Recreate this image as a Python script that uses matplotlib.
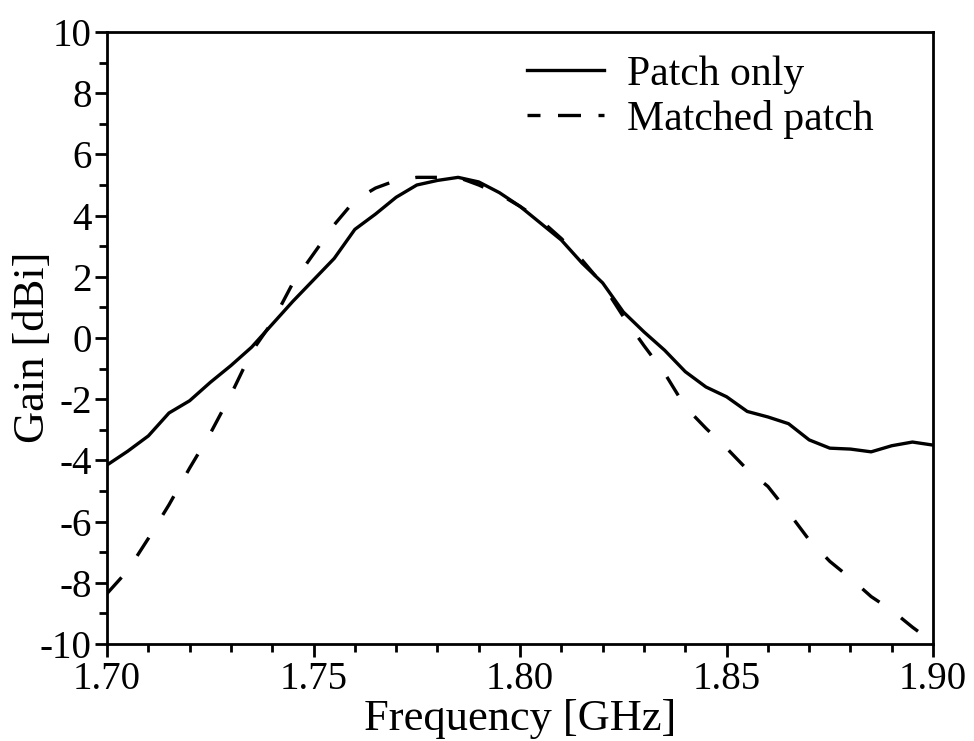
import numpy as np
import matplotlib
matplotlib.use("Agg")
import matplotlib.pyplot as plt
from matplotlib.lines import Line2D
from matplotlib.ticker import MultipleLocator, FuncFormatter

freq = [1.700, 1.705, 1.710, 1.715, 1.720, 1.725, 1.730, 1.735, 1.740, 1.745,
        1.750, 1.755, 1.760, 1.765, 1.770, 1.775, 1.780, 1.785, 1.790, 1.795,
        1.800, 1.805, 1.810, 1.815, 1.820, 1.825, 1.830, 1.835, 1.840, 1.845,
        1.850, 1.855, 1.860, 1.865, 1.870, 1.875, 1.880, 1.885, 1.890, 1.895,
        1.900]

patch_only = [-4.15, -3.70, -3.20, -2.45, -2.05, -1.45, -0.90, -0.30, 0.45, 1.20,
              1.90, 2.60, 3.55, 4.05, 4.60, 5.00, 5.15, 5.25, 5.10, 4.75,
              4.30, 3.75, 3.20, 2.45, 1.80, 0.85, 0.20, -0.40, -1.10, -1.60,
              -1.92, -2.40, -2.58, -2.80, -3.33, -3.60, -3.63, -3.72, -3.52, -3.40,
              -3.50]

matched_patch = [-8.35, -7.60, -6.55, -5.45, -4.25, -3.12, -1.85, -0.45, 0.52, 1.80,
                 2.75, 3.70, 4.50, 4.90, 5.15, 5.25, 5.25, 5.25, 5.00, 4.70,
                 4.30, 3.85, 3.25, 2.55, 1.75, 0.70, -0.25, -1.15, -2.25, -2.95,
                 -3.60, -4.30, -4.85, -5.70, -6.60, -7.30, -7.85, -8.45, -8.90, -9.45,
                 -9.95]

plt.rcParams["font.family"] = ["Liberation Serif", "DejaVu Serif"]
plt.rcParams["axes.unicode_minus"] = False

fig = plt.figure(figsize=(9.74, 7.41), dpi=100)
ax = fig.add_axes([0.1099, 0.1309, 0.8481, 0.8259])

LW = 2.4
ax.plot(freq, patch_only, color="black", lw=LW)
ax.plot(freq, matched_patch, color="black", lw=LW, linestyle=(0, (6.5, 8)))

ax.set_xlim(1.70, 1.90)
ax.set_ylim(-10, 10)
ax.xaxis.set_major_locator(MultipleLocator(0.05))
ax.xaxis.set_minor_locator(MultipleLocator(0.01))
ax.yaxis.set_major_locator(MultipleLocator(2))
ax.yaxis.set_minor_locator(MultipleLocator(1))
ax.xaxis.set_major_formatter(FuncFormatter(lambda v, p: f"{v:.2f}"))
ax.yaxis.set_major_formatter(FuncFormatter(lambda v, p: f"{v:.0f}"))

ax.tick_params(which="both", direction="out", top=False, right=False,
               width=2, labelsize=28)
ax.tick_params(which="major", length=9)
ax.tick_params(which="minor", length=5.5)
ax.tick_params(axis="x", pad=3)
ax.tick_params(axis="y", pad=2)
for s in ax.spines.values():
    s.set_linewidth(2)

ax.set_xlabel("Frequency [GHz]", fontsize=32, labelpad=1)
ax.set_ylabel("Gain [dBi]", fontsize=32)
ax.yaxis.set_label_coords(-0.065, 0.485)

# legend dash sample drawn as "- -- -" like the original
handles = [Line2D([], [], color="black", lw=LW),
           Line2D([], [], color="black", lw=LW, linestyle=(3.0, (6.9, 5.25)))]
ax.legend(handles, ["Patch only", "Matched patch"], loc="upper left",
          bbox_to_anchor=(0.508, 0.962), frameon=False, fontsize=30,
          handlelength=1.85, handletextpad=0.55, borderpad=0,
          borderaxespad=0, labelspacing=0.15)

fig.savefig("out.png", dpi=100)
